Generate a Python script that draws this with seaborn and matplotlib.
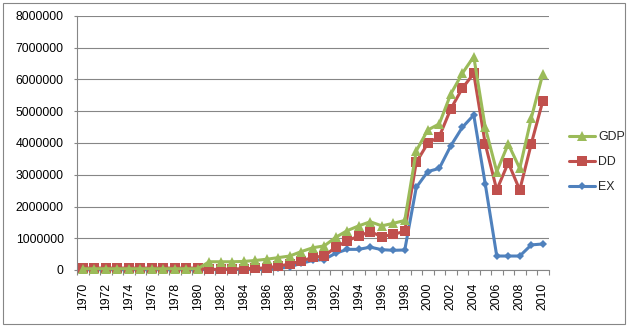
import matplotlib
matplotlib.use("Agg")
import matplotlib.pyplot as plt
from matplotlib.patches import Rectangle
from matplotlib.ticker import FixedLocator, FuncFormatter
import seaborn as sns
import pandas as pd

years = list(range(1970, 2011))

gdp = [40000, 40000, 40000, 40000, 40000, 40000, 40000, 40000, 40000, 40000, 40000,
       260000, 260000, 260000, 270000, 300000, 340000, 390000, 440000, 580000, 700000,
       760000, 1030000, 1240000, 1390000, 1520000, 1390000, 1470000, 1560000, 3750000, 4410000,
       4600000, 5540000, 6190000, 6720000, 4490000, 3100000, 3970000, 3200000, 4780000, 6170000]

dd = [60000, 60000, 60000, 60000, 60000, 60000, 60000, 60000, 60000, 60000, 60000,
      20000, 20000, 30000, 40000, 50000, 70000, 120000, 190000, 280000, 400000,
      440000, 720000, 920000, 1070000, 1210000, 1050000, 1120000, 1220000, 3390000, 3990000,
      4200000, 5070000, 5720000, 6190000, 3970000, 2520000, 3380000, 2520000, 3970000, 5320000]

ex = [10000, 10000, 10000, 10000, 10000, 10000, 10000, 10000, 10000, 10000, 10000,
      15000, 15000, 20000, 20000, 25000, 30000, 50000, 100000, 210000, 300000,
      330000, 530000, 650000, 650000, 720000, 640000, 620000, 630000, 2600000, 3100000,
      3200000, 3910000, 4490000, 4880000, 2710000, 440000, 440000, 440000, 790000, 820000]

y_ticks = [0, 1000000, 2000000, 3000000, 4000000, 5000000, 6000000, 7000000, 8000000]
x_label_years = list(range(1970, 2011, 2))

df = pd.DataFrame({"year": years, "GDP": gdp, "DD": dd, "EX": ex})

sns.set_style("white")
plt.rcParams["font.family"] = ["Liberation Sans", "DejaVu Sans"]

W, H = 636, 329
fig = plt.figure(figsize=(W / 100, H / 100), dpi=100)
ax = fig.add_axes([77 / W, 1 - 270 / H, (548.5 - 77) / W, (270 - 16) / H])

grey = "#868686"
styles = [
    ("EX", "#4F81BD", "D", 4.2),
    ("DD", "#C0504D", "s", 6.6),
    ("GDP", "#9BBB59", "^", 7.4),
]
for name, col, mk, ms in styles:
    sns.lineplot(data=df, x="year", y=name, ax=ax, color=col, marker=mk,
                 markersize=ms, markeredgewidth=0, linewidth=2.2,
                 label=name, clip_on=False, zorder=3)

ax.set_xlim(1969.5, 2010.5)
ax.set_ylim(0, 8000000)
ax.set_xlabel("")
ax.set_ylabel("")

ax.yaxis.set_major_locator(FixedLocator(y_ticks))
ax.yaxis.set_major_formatter(FuncFormatter(lambda v, p: f"{int(round(v))}"))
ax.grid(axis="y", color=grey, linewidth=0.8)
ax.grid(axis="x", visible=False)
ax.set_axisbelow(True)

ax.set_xticks(x_label_years)
ax.set_xticklabels([str(y) for y in x_label_years], rotation=90)
ax.set_xticks([y - 0.5 for y in years] + [2010.5], minor=True)

ax.tick_params(axis="y", which="major", length=2.4, width=0.8, color=grey,
               pad=7.2, labelsize=8.7, labelcolor="black", left=True)
ax.tick_params(axis="x", which="major", length=0, pad=9.2, labelsize=8.7,
               labelcolor="black", bottom=True)
ax.tick_params(axis="x", which="minor", length=3.6, width=0.8, color=grey,
               direction="out", bottom=True)

for s in ["top", "right"]:
    ax.spines[s].set_visible(False)
for s in ["left", "bottom"]:
    ax.spines[s].set_color(grey)
    ax.spines[s].set_linewidth(0.8)

handles, labels = ax.get_legend_handles_labels()
order = [labels.index("GDP"), labels.index("DD"), labels.index("EX")]
ax.legend([handles[i] for i in order], [labels[i] for i in order],
          loc="upper left", bbox_to_anchor=(569 / W, 1 - 131 / H),
          bbox_transform=fig.transFigure, frameon=False, fontsize=8.9,
          borderpad=0, borderaxespad=0, handlelength=2.1, handletextpad=0.25,
          labelspacing=1.05)

fig.patches.append(Rectangle((3 / W, 1 - 324 / H), (625 - 3) / W, (324 - 3) / H,
                             transform=fig.transFigure, fill=False,
                             edgecolor=grey, linewidth=0.8))

fig.savefig("out.png", dpi=100, facecolor="white")
